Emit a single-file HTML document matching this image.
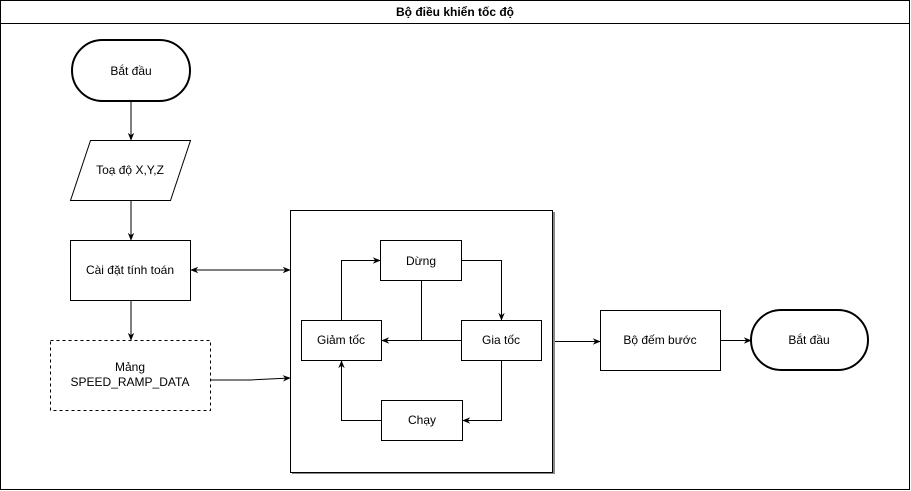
<!DOCTYPE html>
<html><head><meta charset="utf-8"><style>
html,body{margin:0;padding:0;background:#fff;}
svg{display:block;}
text{font-family:"Liberation Sans","DejaVu Sans",sans-serif;font-size:12px;fill:#000;}
</style></head><body>
<svg width="911" height="491" viewBox="0 0 911 491" xmlns="http://www.w3.org/2000/svg">
<defs>
<marker id="a" viewBox="0 0 10 10" refX="9" refY="5" markerWidth="8" markerHeight="8" orient="auto-start-reverse" markerUnits="userSpaceOnUse">
<path d="M0,1 L10,5 L0,9 L3,5 Z" fill="#000"/>
</marker>
</defs>
<rect x="0.5" y="0.5" width="909" height="489" fill="#fff" stroke="#000"/>
<line x1="0" y1="23.5" x2="910" y2="23.5" stroke="#000"/>
<text x="455" y="16" text-anchor="middle" font-weight="bold">Bộ điều khiển tốc độ</text>

<!-- start -->
<rect x="72" y="40" width="118" height="61" rx="30.5" fill="#fff" stroke="#000" stroke-width="2"/>
<text x="131" y="75" text-anchor="middle">Bắt đầu</text>
<line x1="131" y1="101" x2="131" y2="140" stroke="#000" marker-end="url(#a)"/>
<!-- parallelogram -->
<polygon points="90.5,140.5 190.5,140.5 170.5,200.5 70.5,200.5" fill="#fff" stroke="#000"/>
<text x="130" y="174" text-anchor="middle">Toạ độ X,Y,Z</text>
<line x1="131" y1="200" x2="131" y2="240" stroke="#000" marker-end="url(#a)"/>
<!-- cai dat -->
<rect x="70.5" y="240.5" width="120" height="60" fill="#fff" stroke="#000"/>
<text x="130" y="274" text-anchor="middle">Cài đặt tính toán</text>
<line x1="131" y1="300" x2="131" y2="340" stroke="#000" marker-end="url(#a)"/>
<line x1="191" y1="270" x2="290" y2="270" stroke="#000" marker-start="url(#a)" marker-end="url(#a)"/>
<!-- mang -->
<rect x="50.5" y="340.5" width="160" height="70" fill="#fff" stroke="#000" stroke-dasharray="3,3"/>
<text x="130" y="371" text-anchor="middle">Mảng</text>
<text x="130" y="386" text-anchor="middle">SPEED_RAMP_DATA</text>
<path d="M211,380 L250,380 L290,378" fill="none" stroke="#000" marker-end="url(#a)"/>

<!-- big box -->
<rect x="292" y="212" width="263" height="262" fill="#888"/>
<rect x="290.5" y="210.5" width="262" height="262" fill="#fff" stroke="#000"/>

<!-- inner -->
<rect x="380.5" y="240.5" width="81" height="40" fill="#fff" stroke="#000"/>
<text x="421" y="265" text-anchor="middle">Dừng</text>
<rect x="301.5" y="320.5" width="80" height="40" fill="#fff" stroke="#000"/>
<text x="341" y="344" text-anchor="middle">Giảm tốc</text>
<rect x="461.5" y="320.5" width="80" height="40" fill="#fff" stroke="#000"/>
<text x="501" y="344" text-anchor="middle">Gia tốc</text>
<rect x="381.5" y="400.5" width="81" height="40" fill="#fff" stroke="#000"/>
<text x="422" y="424" text-anchor="middle">Chạy</text>

<path d="M341.5,320 L341.5,260.5 L380,260.5" fill="none" stroke="#000" marker-end="url(#a)"/>
<path d="M462,260.5 L501.5,260.5 L501.5,320" fill="none" stroke="#000" marker-end="url(#a)"/>
<path d="M421.5,281 L421.5,340.5" fill="none" stroke="#000"/>
<path d="M461,340.5 L382,340.5" fill="none" stroke="#000" marker-end="url(#a)"/>
<path d="M501.5,361 L501.5,420.5 L463,420.5" fill="none" stroke="#000" marker-end="url(#a)"/>
<path d="M381,420.5 L341.5,420.5 L341.5,361" fill="none" stroke="#000" marker-end="url(#a)"/>

<line x1="555" y1="341.5" x2="600" y2="341.5" stroke="#000" marker-end="url(#a)"/>
<rect x="600.5" y="310.5" width="120" height="60" fill="#fff" stroke="#000"/>
<text x="660" y="344" text-anchor="middle">Bộ đếm bước</text>
<line x1="721" y1="340.5" x2="751" y2="340.5" stroke="#000" marker-end="url(#a)"/>
<rect x="751" y="310" width="117" height="60" rx="30" fill="#fff" stroke="#000" stroke-width="2"/>
<text x="809" y="344" text-anchor="middle">Bắt đầu</text>
</svg>
</body></html>
